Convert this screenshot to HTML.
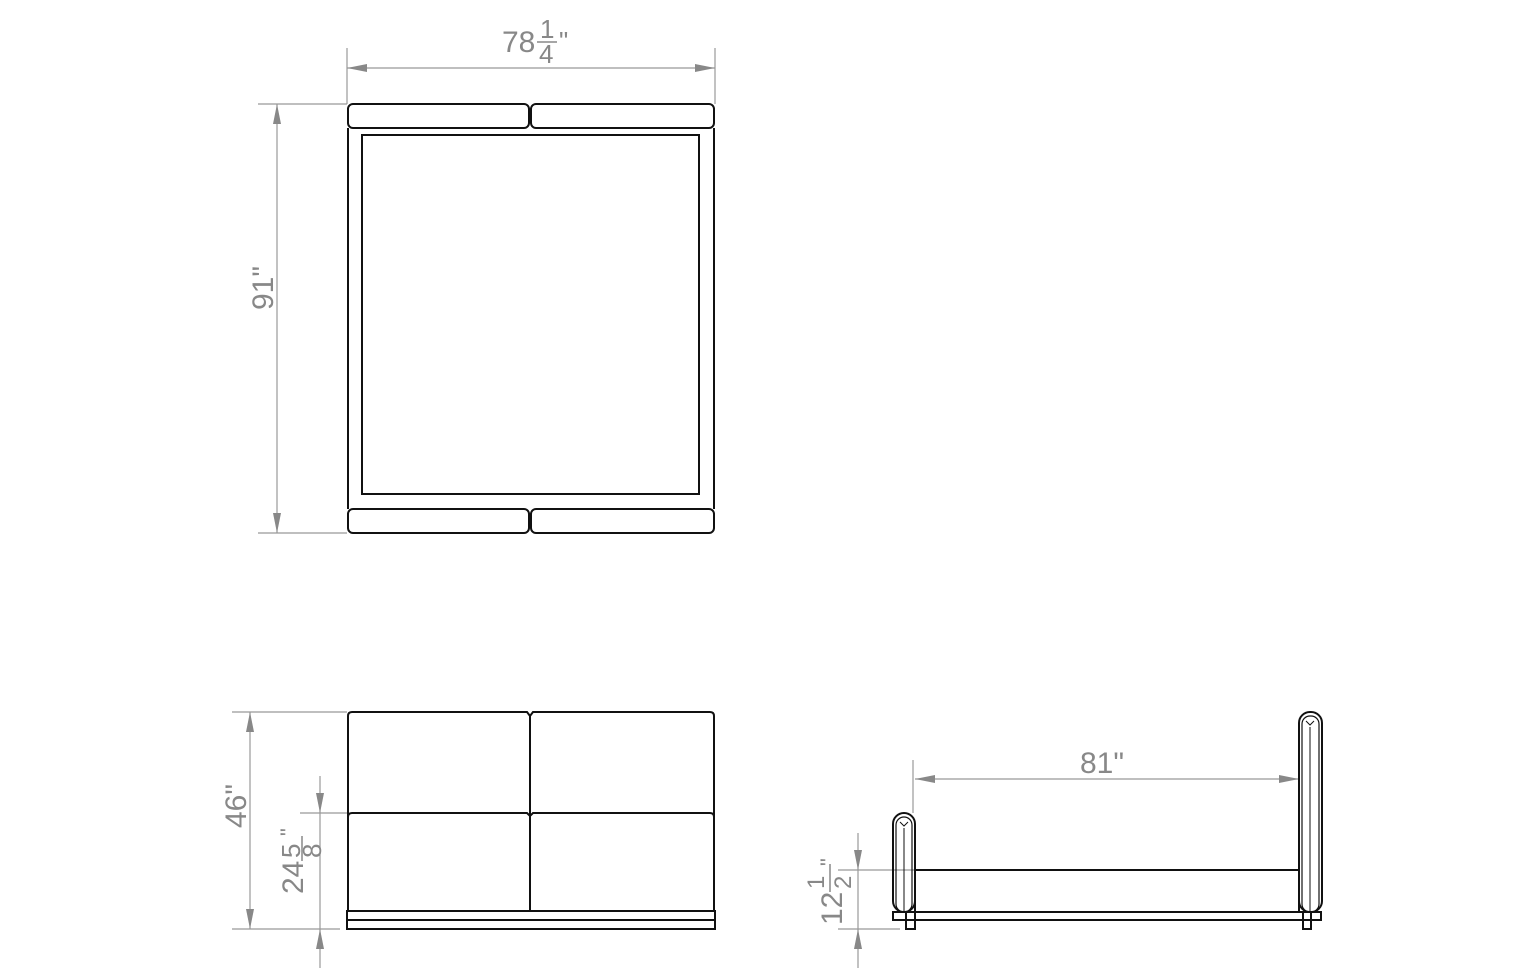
<!DOCTYPE html>
<html><head><meta charset="utf-8"><style>html,body{margin:0;padding:0;background:#fff}svg{display:block}</style></head>
<body>
<svg width="1536" height="970" viewBox="0 0 1536 970" xmlns="http://www.w3.org/2000/svg" font-family="Liberation Sans, sans-serif">
<defs>
<marker id="a" viewBox="0 0 20 8" refX="20" refY="4" markerWidth="20" markerHeight="8" markerUnits="userSpaceOnUse" orient="auto-start-reverse"><path d="M0,0 L20,4 L0,8 z" fill="#888"/></marker>
</defs>
<g stroke="#999" stroke-width="1.2" fill="none">
<line x1="347" y1="48" x2="347" y2="104"/><line x1="715" y1="48" x2="715" y2="104"/>
<line x1="347" y1="68" x2="715" y2="68" marker-start="url(#a)" marker-end="url(#a)"/>
<line x1="258" y1="104" x2="347" y2="104"/><line x1="258" y1="533" x2="347" y2="533"/>
<line x1="277" y1="104" x2="277" y2="533" marker-start="url(#a)" marker-end="url(#a)"/>
<line x1="232" y1="712" x2="347" y2="712"/><line x1="232" y1="929" x2="340" y2="929"/>
<line x1="250" y1="712" x2="250" y2="929" marker-start="url(#a)" marker-end="url(#a)"/>
<line x1="300" y1="813" x2="347" y2="813"/>
<line x1="320" y1="776" x2="320" y2="813" marker-end="url(#a)"/>
<line x1="320" y1="968" x2="320" y2="929" marker-end="url(#a)"/>
<line x1="320" y1="813" x2="320" y2="929"/>
<line x1="913" y1="760" x2="913" y2="813"/>
<line x1="915" y1="779" x2="1299" y2="779" marker-start="url(#a)" marker-end="url(#a)"/>
<line x1="838" y1="870" x2="915" y2="870"/><line x1="838" y1="929" x2="900" y2="929"/>
<line x1="858" y1="833" x2="858" y2="870" marker-end="url(#a)"/>
<line x1="858" y1="968" x2="858" y2="929" marker-end="url(#a)"/>
<line x1="858" y1="870" x2="858" y2="929"/>
</g>
<g fill="#888" font-size="30">
<text x="502" y="52">78</text>
<text x="540" y="38" font-size="26">1</text><line x1="537" y1="42" x2="557" y2="42" stroke="#888" stroke-width="1.5"/>
<text x="539" y="63" font-size="26">4</text><text x="559" y="50" font-size="26">"</text>
<text transform="translate(273,310) rotate(-90)">91"</text>
<text transform="translate(246,828) rotate(-90)">46"</text>
<text transform="translate(303,894) rotate(-90)">24</text>
<text transform="translate(300,858) rotate(-90)" font-size="26">5</text>
<line x1="302" y1="836" x2="302" y2="861" stroke="#888" stroke-width="1.5"/>
<text transform="translate(321,858) rotate(-90)" font-size="26">8</text>
<text transform="translate(296,836) rotate(-90)" font-size="22">"</text>
<text x="1080" y="773">81"</text>
<text transform="translate(842,925) rotate(-90)">12</text>
<text transform="translate(824,889) rotate(-90)" font-size="24">1</text>
<line x1="830" y1="864" x2="830" y2="892" stroke="#888" stroke-width="1.5"/>
<text transform="translate(851,889) rotate(-90)" font-size="24">2</text>
<text transform="translate(836,866) rotate(-90)" font-size="22">"</text>
</g>
<g stroke="#111" stroke-width="2" fill="none">
<rect x="348" y="104" width="181" height="24" rx="5"/><rect x="531" y="104" width="183" height="24" rx="5"/>
<rect x="348" y="509" width="181" height="24" rx="5"/><rect x="531" y="509" width="183" height="24" rx="5"/>
<line x1="348" y1="128" x2="348" y2="509"/><line x1="714" y1="128" x2="714" y2="509"/>
<rect x="362" y="135" width="337" height="359"/>
<path d="M348,911 V716 Q348,712 352,712 H527 L530,716 L533,712 H710 Q714,712 714,716 V911"/>
<path d="M348,817 Q348,813 352,813 H527 L530,816 L533,813 H710 Q714,813 714,817"/>
<line x1="530" y1="716" x2="530" y2="911"/>
<rect x="347" y="911" width="368" height="9"/><rect x="347" y="920" width="368" height="9"/>
<rect x="893" y="813" width="22" height="99" rx="11"/>
<rect x="896" y="817" width="16" height="95" rx="8" stroke-width="1.2"/>
<line x1="904" y1="828" x2="904" y2="912" stroke-width="1"/>
<path d="M900,822 L904,826 L908,822" stroke-width="1"/>
<rect x="1299" y="712" width="23" height="200" rx="11"/>
<rect x="1302" y="716" width="17" height="196" rx="8" stroke-width="1.2"/>
<line x1="1310" y1="727" x2="1310" y2="912" stroke-width="1"/>
<path d="M1306,721 L1310,725 L1314,721" stroke-width="1"/>
<rect x="915" y="870" width="384" height="42"/>
<rect x="893" y="912" width="428" height="8"/>
<rect x="906" y="912" width="9" height="17"/><rect x="1303" y="912" width="8" height="17"/>
</g>
</svg>
</body></html>
